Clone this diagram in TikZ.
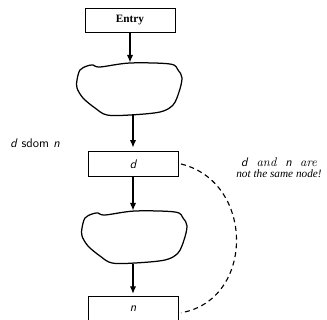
\documentclass[tikz,border=0pt]{standalone}
\usepackage{amsmath, amssymb}
\usepackage{fontspec}
\newfontfamily\notefont{Liberation Serif}
\usepackage{tikz}
\usetikzlibrary{arrows.meta, positioning, calc}

\tikzset{
    blob/.pic={
        \draw[line width=1pt] plot[smooth cycle, tension=0.55] coordinates {
            (-53,-9) (-50,-19) (-43,-23) (-37,-24) (-30,-22) (0,-26) (40,-25)
            (48,-19) (52,-11) (49,3) (43,16) (30,23) (0,26) (-23,26)
            (-35,19) (-47,9) (-53,-1)};
    }
}

\begin{document}
\begin{tikzpicture}[x=0.8pt, y=-0.8pt,
    blockbox/.style={draw, line width=0.8pt, minimum width=72pt, minimum height=19.5pt, inner sep=0pt},
    blobarea/.style={minimum width=84pt, minimum height=42pt, inner sep=0pt},
    flow/.style={-{Latex[length=6pt, width=5pt]}, line width=0.9pt},
    vname/.style={font=\sffamily\itshape}]
    \useasboundingbox (0,0) rectangle (327,320);

    % Blocks of the flow graph
    \node[blockbox, font=\notefont\small\bfseries] (entry) at (130,20.5) {Entry};
    \node[blobarea] (blobA) at (130,89) {};
    \pic at (blobA) {blob};
    \node[blockbox, vname] (d) at (133,164) {d};
    \node[blobarea] (blobB) at (135,237) {};
    \pic at (blobB) {blob};
    \node[blockbox, vname] (n) at (133,309) {n};

    % Edges between blocks
    \draw[flow] (entry) -- (entry |- blobA.north);
    \draw[flow] (blobA.south -| d.north) -- ([yshift=3pt]d.north);
    \draw[flow] (d.south) -- (d.south |- blobB.north);
    \draw[flow] (blobB.south -| n.north) -- ([yshift=2pt]n.north);

    % Dashed link d -- n and the notes
    \draw[dashed, line width=0.9pt, dash pattern=on 4pt off 3pt]
        ([xshift=2pt]d.east) .. controls (255,182) and (255,300) .. ([xshift=2pt, yshift=-3pt]n.east);
    \node (dsdom) at (35,143) {\textsf{\textit{d} sdom \textit{n}}};
    \node[align=center] (note) at (279,168)
        {\textsf{\textit{d}}\ \ \textit{and}\ \ \textsf{\textit{n}}\ \ \textit{are}\\[-3pt]
         {\notefont\small\itshape not the same node!}};
\end{tikzpicture}
\end{document}
